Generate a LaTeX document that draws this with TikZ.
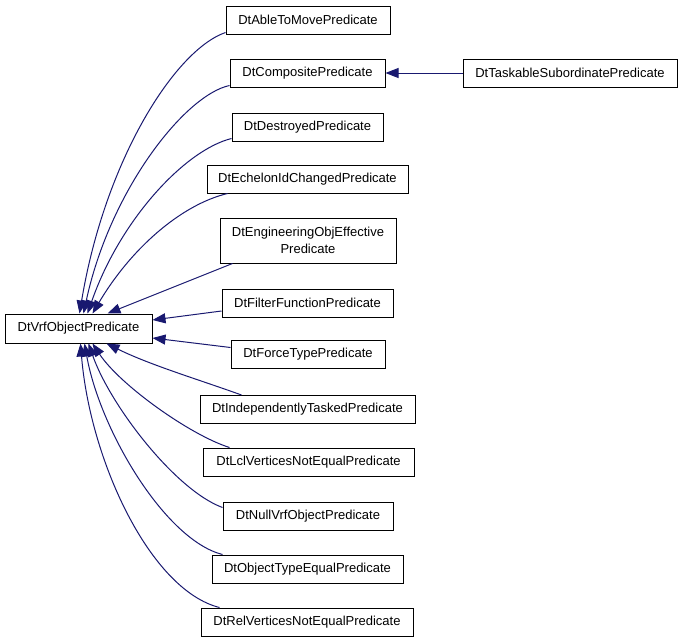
\documentclass[tikz,border=0pt]{standalone}
\usepackage{fontspec}
\setmainfont{Liberation Sans}
\usetikzlibrary{arrows.meta}
\definecolor{edgeblue}{HTML}{191970}
\begin{document}
\begin{tikzpicture}[x=1pt,y=-1pt,
  box/.style={draw=black,line width=1pt,inner sep=0pt,minimum height=28pt,
    font=\fontsize{13}{17}\selectfont,align=center},
  edge/.style={draw=edgeblue,line width=1pt,
    -{Triangle[length=13pt,width=10pt]},fill=none}]
\useasboundingbox (0,0) rectangle (683,643);
\fill[white] (0,0) rectangle (683,643);
% nodes
\node[box,minimum width=147pt,minimum height=29pt] (main) at (78.5,328.5) {DtVrfObjectPredicate};
\node[box,minimum width=164pt] (able) at (308,20) {DtAbleToMovePredicate};
\node[box,minimum width=155pt] (comp) at (307.5,73) {DtCompositePredicate};
\node[box,minimum width=214pt] (task) at (570,73) {DtTaskableSubordinatePredicate};
\node[box,minimum width=151pt] (destr) at (307.5,127) {DtDestroyedPredicate};
\node[box,minimum width=201pt] (eche) at (307.5,179) {DtEchelonIdChangedPredicate};
\node[box,minimum width=176pt,minimum height=45pt] (eng) at (308,240.5) {DtEngineeringObjEffective\\Predicate};
\node[box,minimum width=171pt] (filt) at (307.5,303) {DtFilterFunctionPredicate};
\node[box,minimum width=154pt] (force) at (308,354.5) {DtForceTypePredicate};
\node[box,minimum width=215pt] (indep) at (307.5,409.5) {DtIndependentlyTaskedPredicate};
\node[box,minimum width=211pt] (lcl) at (308.5,462) {DtLclVerticesNotEqualPredicate};
\node[box,minimum width=170pt] (null) at (308,516) {DtNullVrfObjectPredicate};
\node[box,minimum width=191pt] (otype) at (307.5,569) {DtObjectTypeEqualPredicate};
\node[box,minimum width=212pt] (rel) at (307,622) {DtRelVerticesNotEqualPredicate};
% edges
\draw[edge] (task.west) -- (comp.east);
\draw[edge] ([yshift=2pt]able.south west) .. controls (175,50) and (105,160) .. ([xshift=75pt]main.north west);
\draw[edge] ([yshift=2pt]comp.south west) .. controls (185,95) and (110,190) .. ([xshift=79pt]main.north west);
\draw[edge] ([yshift=3pt]destr.south west) .. controls (185,150) and (120,220) .. ([xshift=83pt]main.north west);
\draw[edge] ([xshift=21pt]eche.south west) .. controls (180,205) and (130,250) .. ([xshift=88pt]main.north west);
\draw[edge] ([xshift=13pt]eng.south west) -- ([xshift=103pt]main.north west);
\draw[edge] ([yshift=-8pt]filt.west) -- ([yshift=8.5pt]main.east);
\draw[edge] ([yshift=-7.5pt]force.north west) -- ([yshift=-9.5pt]main.east);
\draw[edge] ([xshift=42pt]indep.north west) .. controls (200,380) and (150,365) .. ([xshift=102pt]main.south west);
\draw[edge] ([xshift=27pt]lcl.north west) .. controls (190,435) and (120,385) .. ([xshift=88pt]main.south west);
\draw[edge] ([yshift=-6pt]null.north west) .. controls (175,490) and (110,405) .. ([xshift=84pt]main.south west);
\draw[edge] ([xshift=11pt]otype.north west) .. controls (165,540) and (100,430) .. ([xshift=80pt]main.south west);
\draw[edge] ([xshift=19pt]rel.north west) .. controls (150,590) and (90,460) .. ([xshift=76pt]main.south west);
\end{tikzpicture}
\end{document}
